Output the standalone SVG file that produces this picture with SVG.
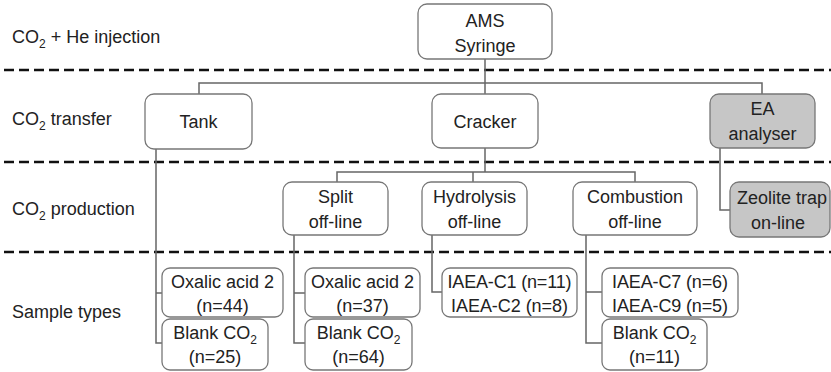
<svg xmlns="http://www.w3.org/2000/svg" width="831" height="372" viewBox="0 0 831 372">
<style>
text{font-family:"Liberation Sans",Arial,sans-serif;font-size:18px;fill:#222}
.c{text-anchor:middle}
.sub{font-size:12px}
.box{fill:#fff;stroke:#777;stroke-width:1.3}
.grey{fill:#c6c6c6;stroke:#777;stroke-width:1.3}
.dash{stroke:#111;stroke-width:2.6;stroke-dasharray:10 5;fill:none}
.conn{stroke:#666;stroke-width:1.5;fill:none}
</style>
<rect width="831" height="372" fill="#fff"/>
<g id="dividers">
<line class="dash" x1="4" y1="70" x2="831" y2="70"/>
<line class="dash" x1="4" y1="162" x2="831" y2="162"/>
<line class="dash" x1="4" y1="252" x2="831" y2="252"/>
</g>
<g id="row-labels">
<text x="12" y="43">CO<tspan class="sub" dy="5">2</tspan><tspan dy="-5"> + He injection</tspan></text>
<text x="12" y="125">CO<tspan class="sub" dy="5">2</tspan><tspan dy="-5"> transfer</tspan></text>
<text x="12" y="215">CO<tspan class="sub" dy="5">2</tspan><tspan dy="-5"> production</tspan></text>
<text x="12" y="318">Sample types</text>
</g>
<g id="connectors">
<path class="conn" d="M485 59V94"/>
<path class="conn" d="M199 94V83H762V94"/>
<path class="conn" d="M485 148V172"/>
<path class="conn" d="M337 182V172H635V182"/>
<path class="conn" d="M473 172V182"/>
<path class="conn" d="M720 148V210H730"/>
<path class="conn" d="M156 149V343H162M156 293H162"/>
<path class="conn" d="M294 235V343H305M294 293H305"/>
<path class="conn" d="M432 235V292H442"/>
<path class="conn" d="M586 235V343H602M586 292H602"/>
</g>
<g id="ams">
<rect class="box" x="418" y="4" width="134" height="55" rx="9"/>
<text class="c" x="485" y="27">AMS</text>
<text class="c" x="485" y="52">Syringe</text>
</g>
<g id="tank">
<rect class="box" x="145" y="94" width="107" height="55" rx="9"/>
<text class="c" x="198.5" y="128">Tank</text>
</g>
<g id="cracker">
<rect class="box" x="432" y="94" width="106" height="54" rx="9"/>
<text class="c" x="485" y="128">Cracker</text>
</g>
<g id="ea">
<rect class="grey" x="710" y="94" width="105" height="54" rx="9"/>
<text class="c" x="762.5" y="115">EA</text>
<text class="c" x="762.5" y="140">analyser</text>
</g>
<g id="split">
<rect class="box" x="283" y="182" width="105" height="53" rx="9"/>
<text class="c" x="335.5" y="203">Split</text>
<text class="c" x="335.5" y="228">off-line</text>
</g>
<g id="hydrolysis">
<rect class="box" x="422" y="182" width="105" height="53" rx="9"/>
<text class="c" x="474.5" y="203">Hydrolysis</text>
<text class="c" x="474.5" y="228">off-line</text>
</g>
<g id="combustion">
<rect class="box" x="573" y="182" width="124" height="53" rx="9"/>
<text class="c" x="635" y="203">Combustion</text>
<text class="c" x="635" y="228">off-line</text>
</g>
<g id="zeolite">
<rect class="grey" x="730" y="182" width="100" height="55" rx="9"/>
<text class="c" x="782" y="204">Zeolite trap</text>
<text class="c" x="778" y="229">on-line</text>
</g>
<g id="tank-oxalic">
<rect class="box" x="162" y="268" width="121" height="49" rx="8"/>
<text class="c" x="222.5" y="288">Oxalic acid 2</text>
<text class="c" x="222.5" y="312">(n=44)</text>
</g>
<g id="tank-blank">
<rect class="box" x="162" y="319" width="106" height="51" rx="8"/>
<text class="c" x="215" y="339">Blank CO<tspan class="sub" dy="5">2</tspan></text>
<text class="c" x="215" y="363">(n=25)</text>
</g>
<g id="split-oxalic">
<rect class="box" x="305" y="268" width="115" height="49" rx="8"/>
<text class="c" x="362.5" y="288">Oxalic acid 2</text>
<text class="c" x="362.5" y="312">(n=37)</text>
</g>
<g id="split-blank">
<rect class="box" x="305" y="319" width="107" height="51" rx="8"/>
<text class="c" x="358.5" y="339">Blank CO<tspan class="sub" dy="5">2</tspan></text>
<text class="c" x="358.5" y="363">(n=64)</text>
</g>
<g id="hydrolysis-iaea">
<rect class="box" x="442" y="268" width="135" height="49" rx="8"/>
<text class="c" x="509.5" y="288" textLength="124">IAEA-C1 (n=11)</text>
<text class="c" x="509.5" y="312" textLength="117">IAEA-C2 (n=8)</text>
</g>
<g id="combustion-iaea">
<rect class="box" x="602" y="268" width="136" height="49" rx="8"/>
<text class="c" x="670" y="288" textLength="116">IAEA-C7 (n=6)</text>
<text class="c" x="670" y="312" textLength="116">IAEA-C9 (n=5)</text>
</g>
<g id="combustion-blank">
<rect class="box" x="602" y="319" width="105" height="51" rx="8"/>
<text class="c" x="654.5" y="339">Blank CO<tspan class="sub" dy="5">2</tspan></text>
<text class="c" x="654.5" y="363">(n=11)</text>
</g>
</svg>
